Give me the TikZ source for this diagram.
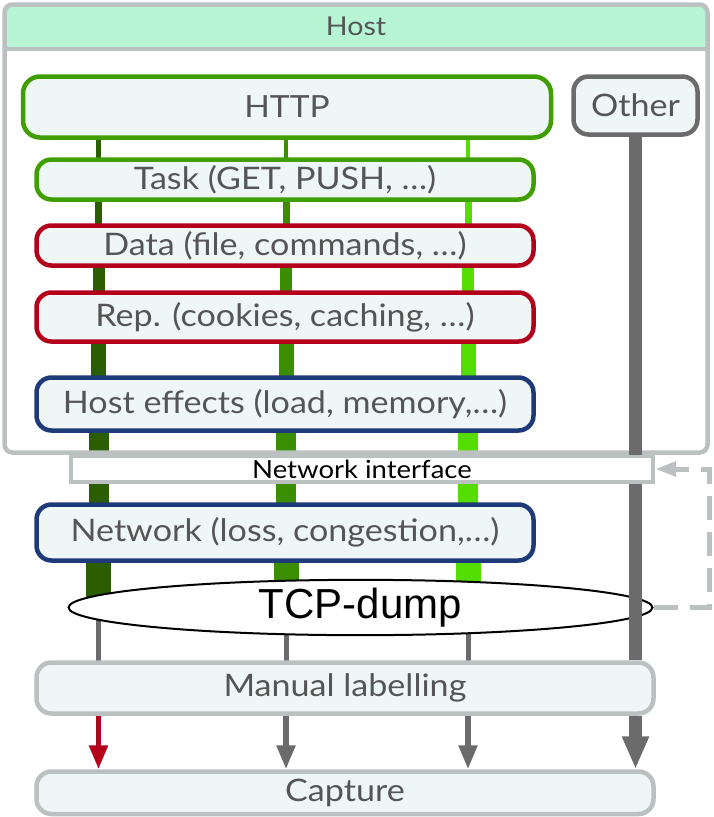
\documentclass[tikz,border=0pt]{standalone}
\usepackage{fontspec}
\setmainfont{Lato}[FakeStretch=1.1]
\newfontfamily\dumpfont{Liberation Sans}
\usepackage{tikz}
\usetikzlibrary{arrows.meta,shapes.geometric,backgrounds}

\definecolor{hostgreen}{HTML}{B8F5D5}
\definecolor{boxfill}{HTML}{EFF7F6}
\definecolor{framegray}{HTML}{BBC0C1}
\definecolor{darkgray}{HTML}{6B6B6B}
\definecolor{textgray}{HTML}{555555}
\definecolor{httpgreen}{HTML}{3F9E00}
\definecolor{datared}{HTML}{B3001B}
\definecolor{netblue}{HTML}{1F3A78}
\definecolor{colA}{HTML}{2A5E00}
\definecolor{colB}{HTML}{3A8E00}
\definecolor{colC}{HTML}{55DD00}

\begin{document}
\begin{tikzpicture}[x=1pt,y=-1pt,
  layer/.style={draw, fill=boxfill, rounded corners=15pt, line width=4.5pt,
    inner sep=0pt, text=textgray, font=\fontsize{31}{36}\selectfont},
  wide/.style={minimum width=497pt},
  thinline/.style={darkgray, line width=5pt},
  tip/.style={-{Triangle[width=18pt,length=24pt]}}]
\useasboundingbox (0,0) rectangle (713,817);

% host frame with its green title band
\fill[hostgreen] (4.5,49) [rounded corners=8pt] -- (4.5,4.2) -- (707.5,4.2)
  [sharp corners] -- (707.5,49) -- cycle;
\draw[framegray, line width=4.5pt] (4.5,49) -- (707.5,49);
\node[draw=framegray, line width=4.5pt, rounded corners=8pt, inner sep=0pt,
  minimum width=703pt, minimum height=448pt] (host) at (356,228.5) {};
\node[text=textgray, font=\fontsize{26}{30}\selectfont] (hostlbl) at (356,26) {Host};

\node[layer, draw=httpgreen, minimum width=528pt, minimum height=61pt,
  rounded corners=17pt, font=\fontsize{30.5}{36}\selectfont] (http) at (287,107) {HTTP};
\node[layer, draw=darkgray, minimum width=124pt, minimum height=58pt] (other) at (635.5,105.5) {Other};
\node[layer, wide, draw=httpgreen, minimum height=40pt] (task) at (285,179.5) {Task (GET, PUSH, \dots)};
\node[layer, wide, draw=datared, minimum height=40pt] (data) at (285,245.5) {Data (file, commands, \dots)};
\node[layer, wide, draw=datared, minimum height=49pt] (rep) at (285,317) {Rep. (cookies, caching, \dots)};
\node[layer, wide, draw=netblue, minimum height=53pt] (hosteff) at (285,404) {Host effects (load, memory,\dots)};

\node[draw=framegray, fill=white, line width=4pt, inner sep=0pt,
  minimum width=582pt, minimum height=26pt,
  font=\fontsize{25}{28}\selectfont] (ni) at (362,469) {Network interface};
\node[layer, wide, draw=netblue, minimum height=56pt] (network) at (285,532.5) {Network (loss, congestion,\dots)};

\node[ellipse, draw=black, fill=white, line width=2pt, inner sep=0pt,
  minimum width=584pt, minimum height=54pt,
  font=\dumpfont\fontsize{42}{48}\selectfont] (tcp) at (360.5,607.5) {TCP-dump};

\node[layer, draw=framegray, minimum width=617pt, minimum height=51pt] (manual) at (345,688) {Manual labelling};
\node[layer, draw=framegray, minimum width=617pt, minimum height=42.5pt] (capture) at (345,792.75) {Capture};

\coordinate (c1) at (98.5,0);
\coordinate (c2) at (286,0);
\coordinate (c3) at (468,0);

% the three HTTP flows, getting wider at each step
\begin{scope}[on background layer]
\foreach \a/\b/\w in {http/task/4.5, task/data/7, data/rep/12, rep/hosteff/15,
  hosteff/ni/20, ni/network/20, network/tcp/25}{
  \draw[colA, line width=\w pt] (c1 |- \a.center) -- (c1 |- \b.center);
  \draw[colB, line width=\w pt] (c2 |- \a.center) -- (c2 |- \b.center);
  \draw[colC, line width=\w pt] (c3 |- \a.center) -- (c3 |- \b.center);
}
\foreach \c in {c1,c2,c3}
  \draw[thinline] (\c |- tcp.center) -- (\c |- manual.center);
\end{scope}

\draw[tip, datared, line width=5.5pt] (c1 |- manual.south) -- (c1 |- capture.north);
\draw[tip, darkgray, line width=5.5pt] (c2 |- manual.south) -- (c2 |- capture.north);
\draw[tip, darkgray, line width=5.5pt] (c3 |- manual.south) -- (c3 |- capture.north);

% other traffic
\draw[darkgray, line width=12.5pt] (other.south) -- (other.south |- host.south);
\draw[darkgray, line width=12.5pt] (other.south |- ni.south) -- (other.south |- manual.north);
\draw[darkgray, line width=12.5pt, -{Triangle[width=25pt,length=33pt]}]
  (other.south |- manual.south) -- (other.south |- capture.north);

% feedback to the interface
\draw[framegray, line width=5pt, dash pattern=on 24pt off 12pt,
  -{Triangle[width=14pt,length=21pt]}]
  (tcp.east) -| (host.east |- ni.east) -- (ni.east);
\end{tikzpicture}
\end{document}
